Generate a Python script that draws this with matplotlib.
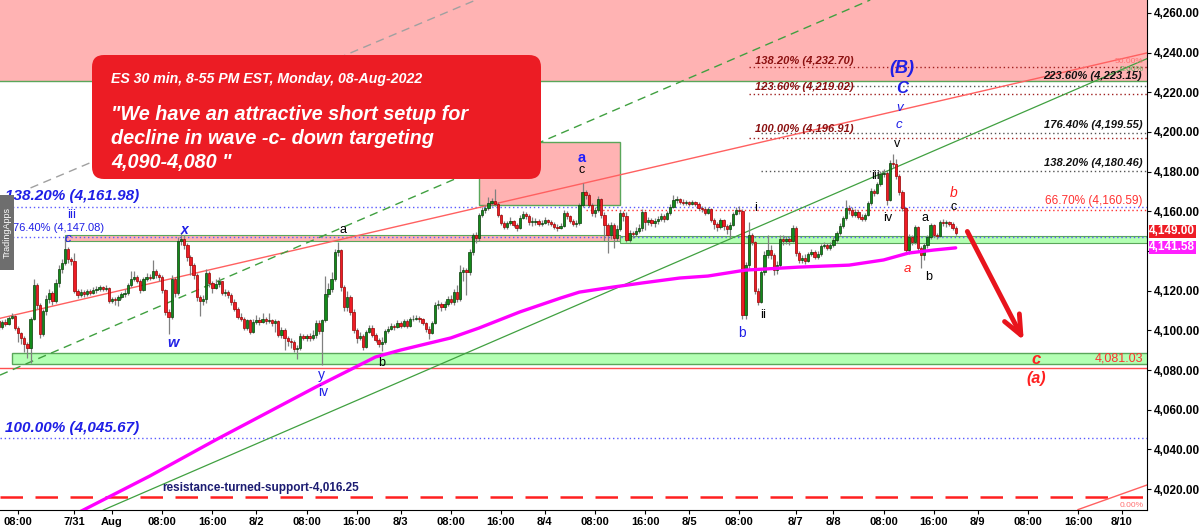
import numpy as np
import pandas as pd
import matplotlib
matplotlib.use("Agg")
import matplotlib.pyplot as plt
import matplotlib.transforms as mtransforms
from matplotlib.patches import Rectangle, FancyBboxPatch

plt.rcParams['font.family'] = ['Liberation Sans', 'DejaVu Sans']

# ---------------- data (ES 30-min bars: close, high, low) ----------------
first_open = 4104.5
s0729 = [(4101.5, 4106, 4100), (4104, 4105, 4100.5), (4103, 4105.5, 4102), (4106.5, 4107.5, 4102.5),
         (4107.5, 4109, 4105.5), (4101, 4108, 4100), (4098.5, 4102, 4094), (4096, 4099, 4093),
         (4093, 4097, 4089), (4091, 4094, 4086), (4106, 4107, 4083.5), (4123, 4126, 4105),
         (4113, 4124, 4111), (4098, 4114, 4096), (4110, 4111, 4097), (4116, 4118, 4108),
         (4119, 4121, 4114), (4115, 4120, 4113), (4124, 4126, 4114), (4131, 4133, 4122),
         (4134, 4136, 4129), (4141, 4146, 4133), (4136, 4142, 4134), (4135, 4137, 4133)]
s0801 = [(4120, 4139, 4119), (4118, 4121, 4116.5), (4119.5, 4121, 4117), (4118.5, 4120.5, 4117),
         (4120, 4121, 4117.5), (4119, 4121, 4118), (4120.5, 4122, 4118.5), (4121, 4122.5, 4119),
         (4122, 4123, 4120), (4121, 4122.5, 4120), (4121.5, 4123, 4120), (4115, 4122, 4114),
         (4116, 4117, 4114), (4115.5, 4117, 4113), (4117, 4118, 4112.5), (4118.5, 4119.5, 4116),
         (4119, 4121, 4117), (4123, 4124, 4118), (4126, 4130, 4122), (4127, 4130, 4125),
         (4125, 4128, 4124), (4120.5, 4126, 4119), (4126, 4127, 4120), (4127, 4129, 4125),
         (4126.5, 4128.5, 4125.5), (4130, 4135.5, 4126), (4128, 4131, 4126.5), (4127, 4129, 4125),
         (4120.5, 4128, 4119), (4109.5, 4121, 4108), (4107, 4111, 4098), (4126, 4128, 4106),
         (4119, 4127, 4117), (4145, 4147, 4118), (4146, 4149, 4143), (4143, 4148, 4141),
         (4137, 4144, 4135), (4133, 4138, 4128), (4128, 4134, 4126), (4117, 4129, 4115),
         (4115, 4118, 4107.5), (4116, 4118, 4113), (4129, 4131, 4114), (4124, 4130, 4122),
         (4121.5, 4125, 4119), (4123.5, 4126, 4121)]
s0802 = [(4125, 4127, 4122), (4119, 4125, 4118), (4119.5, 4121, 4117.5), (4118, 4120.5, 4116.5),
         (4114.5, 4119, 4113), (4111, 4116, 4110), (4107, 4112, 4106), (4106, 4109, 4104.5),
         (4101, 4107, 4100), (4105, 4106, 4100), (4099, 4106, 4098), (4104, 4106, 4098.5),
         (4105, 4108, 4103), (4104, 4107, 4102.5), (4105.5, 4109, 4103.5), (4104.5, 4107, 4103),
         (4105, 4109, 4103.5), (4103.5, 4106, 4102), (4104.5, 4106, 4099), (4097.5, 4105, 4096.5),
         (4100, 4101.5, 4096), (4096, 4101, 4090), (4094.5, 4097, 4092), (4094, 4096, 4091),
         (4090.5, 4095, 4089), (4091, 4092.5, 4085.5), (4097, 4098.5, 4090), (4096, 4098, 4095),
         (4097, 4098, 4094.5), (4096, 4098.5, 4094.5), (4097.5, 4100, 4095), (4103.5, 4105, 4096),
         (4099.5, 4105, 4098), (4105, 4106, 4082.5), (4118.5, 4127.5, 4104), (4121, 4124, 4117),
         (4126, 4129.5, 4119.5), (4139.5, 4141, 4125), (4140.5, 4144.5, 4137.5), (4122, 4141, 4120),
         (4112, 4123, 4110), (4117, 4120, 4110), (4109.5, 4118, 4108), (4100, 4111, 4098.5),
         (4096, 4101, 4093.5), (4097, 4099, 4095)]
s0803 = [(4091.5, 4098, 4090), (4099, 4100, 4091), (4101, 4102.5, 4098.5), (4097.5, 4102.5, 4096.5),
         (4095, 4098.5, 4094), (4093, 4096, 4091.5), (4094, 4096.5, 4089.5), (4099.5, 4100.5, 4093),
         (4100.5, 4102, 4098.5), (4102, 4103.5, 4100), (4101.5, 4103, 4100), (4103.5, 4105, 4101),
         (4102, 4104.5, 4101), (4104.5, 4106, 4101.5), (4102, 4105.5, 4101), (4105.5, 4107, 4101.5),
         (4106, 4108, 4104.5), (4106.5, 4108, 4105), (4105.5, 4107.5, 4104), (4103.5, 4106.5, 4102.5),
         (4100.5, 4104, 4099), (4098.5, 4102, 4095.5), (4103.5, 4104.5, 4098), (4113, 4114.5, 4103),
         (4113.5, 4115.5, 4111), (4112, 4114.5, 4110), (4113.5, 4115, 4110.5), (4116, 4117.5, 4112.5),
         (4114.5, 4118, 4113.5), (4119.5, 4121, 4113), (4116, 4123, 4114.5), (4129.5, 4133, 4115),
         (4130.5, 4132, 4125), (4129.5, 4131.5, 4118), (4139.5, 4141, 4128), (4148, 4149, 4138),
         (4146.5, 4149.5, 4144), (4158, 4159, 4145), (4160.5, 4162, 4157), (4161.5, 4163, 4159),
         (4164, 4167, 4160.5), (4165, 4166.5, 4162.5), (4163.5, 4171.5, 4162.5), (4158, 4164.5, 4157),
         (4154, 4158.5, 4153), (4152, 4155, 4151)]
s0804 = [(4154, 4155, 4151), (4155, 4157, 4153), (4153, 4155.5, 4152), (4151.5, 4154, 4150),
         (4156.5, 4158, 4151), (4158.5, 4160, 4156), (4157.5, 4159.5, 4156), (4154.5, 4158.5, 4153),
         (4154.5, 4157, 4152.5), (4155, 4156.5, 4153), (4153.5, 4156, 4152.5), (4154, 4155.5, 4152.5),
         (4155.5, 4157, 4153.5), (4154.5, 4156, 4153), (4153.5, 4155.5, 4152.5), (4152, 4154.5, 4151),
         (4151.5, 4153.5, 4150), (4152.5, 4154, 4151), (4159, 4160.5, 4152), (4157.5, 4160, 4156),
         (4155, 4158, 4154), (4153.5, 4156, 4152.5), (4154, 4155.5, 4152), (4163, 4164, 4153),
         (4169.5, 4174.5, 4162), (4168, 4171, 4166), (4163, 4169, 4162), (4159, 4164, 4157.5),
         (4160.5, 4162, 4157), (4166, 4167.5, 4159.5), (4158, 4166.5, 4156.5), (4153, 4159.5, 4145),
         (4148, 4154, 4139), (4153, 4154.5, 4146), (4146.5, 4154, 4141.5), (4151, 4153, 4145),
         (4159, 4160.5, 4150), (4157.5, 4160, 4155), (4145.5, 4159.5, 4144.5), (4149, 4150.5, 4144.5),
         (4148.5, 4150, 4146.5), (4150, 4152, 4147.5), (4151.5, 4153.5, 4149), (4159.5, 4161, 4150),
         (4154.5, 4160, 4150.5), (4155.5, 4157, 4153)]
s0805 = [(4154, 4156.5, 4152.5), (4155, 4156.5, 4152), (4156, 4157.5, 4153.5), (4157.5, 4159, 4155),
         (4156, 4158.5, 4154.5), (4159, 4160, 4155.5), (4162, 4163.5, 4158), (4165.5, 4168, 4161.5),
         (4166, 4167.5, 4164), (4164.5, 4166.5, 4163.5), (4164, 4166, 4163), (4164.5, 4165.5, 4163),
         (4163.5, 4165, 4162.5), (4164.5, 4165.5, 4163), (4163.5, 4165, 4162.5), (4161.5, 4164.5, 4160.5),
         (4161, 4162.5, 4159.5), (4159, 4162, 4158), (4161, 4162, 4158.5), (4155.5, 4161.5, 4154.5),
         (4153.5, 4156.5, 4151), (4152, 4154.5, 4150), (4155.5, 4156.5, 4151), (4152.5, 4156, 4150.5),
         (4151, 4153.5, 4148.5), (4153, 4154.5, 4146.5), (4158.5, 4159.5, 4152.5), (4160.5, 4162, 4158),
         (4160, 4162.5, 4158.5), (4108, 4161, 4105.5), (4133, 4134.5, 4106), (4148, 4154.5, 4131),
         (4144.5, 4149, 4143), (4120, 4145, 4118.5), (4114.5, 4121.5, 4113), (4129.5, 4130.5, 4114),
         (4138, 4140, 4128), (4140.5, 4148, 4136.5), (4138, 4143, 4136), (4130.5, 4139, 4128),
         (4133, 4135, 4128.5), (4146, 4148, 4132), (4145, 4148, 4143), (4146, 4147.5, 4143.5),
         (4145, 4147, 4143), (4151.5, 4153, 4144.5)]
s0808 = [(4139, 4152.5, 4137.5), (4135.5, 4140, 4134), (4136.5, 4138, 4134), (4135, 4138.5, 4133.5),
         (4138.5, 4139.5, 4134.5), (4139.5, 4141, 4137.5), (4137, 4140.5, 4136), (4138.5, 4140, 4136),
         (4142.5, 4143.5, 4137.5), (4143, 4144.5, 4141.5), (4141.5, 4144, 4140.5), (4143, 4144.5, 4140.5),
         (4145.5, 4147, 4142), (4149, 4150, 4144.5), (4152.5, 4154, 4148), (4156.5, 4157.5, 4151.5),
         (4161.5, 4165.5, 4155.5), (4160.5, 4163, 4158.5), (4158, 4162, 4157), (4159.5, 4161, 4157),
         (4157, 4160.5, 4156), (4156, 4158.5, 4155), (4158, 4159, 4155), (4164, 4165, 4157.5),
         (4170.5, 4172, 4163), (4169, 4171.5, 4167.5), (4174, 4175, 4168.5), (4179, 4180.5, 4173),
         (4179.5, 4181.5, 4177.5), (4165.5, 4180.5, 4163), (4184.5, 4186, 4165), (4184, 4189, 4182),
         (4178, 4186.5, 4176.5), (4169.5, 4179, 4168), (4161.5, 4171, 4160), (4140.5, 4162, 4138.5),
         (4147, 4148.5, 4138.5), (4144.5, 4148, 4143), (4152, 4153, 4143.5), (4141.5, 4152.5, 4140),
         (4138, 4142.5, 4131.5), (4143, 4144, 4135.5), (4147, 4148, 4141.5), (4153, 4154, 4146),
         (4148, 4153.5, 4147), (4147.5, 4149, 4146)]
s0809 = [(4154.5, 4155.5, 4147), (4154, 4156, 4152.5), (4154.5, 4155.5, 4152),
         (4153.5, 4155, 4152.5), (4151.5, 4154.5, 4150.5), (4149, 4152.5, 4148)]

# 200-bar moving average (bar time, value)
ma_times = ['2022-07-31 18:30', '2022-08-01 06:00', '2022-08-01 16:30', '2022-08-02 09:30',
            '2022-08-02 20:00', '2022-08-03 00:00', '2022-08-03 08:00', '2022-08-03 12:30',
            '2022-08-03 20:00', '2022-08-04 02:30', '2022-08-04 05:30', '2022-08-04 11:00',
            '2022-08-04 15:30', '2022-08-04 22:30', '2022-08-05 03:00', '2022-08-05 09:00',
            '2022-08-07 18:30', '2022-08-08 02:30', '2022-08-08 08:00', '2022-08-08 12:00',
            '2022-08-08 16:00', '2022-08-08 20:30']
ma_vals = [4008.0, 4026.6, 4044.8, 4071.5, 4086.6, 4090.1, 4096.2, 4101.2, 4109.3, 4116.3, 4119.3,
           4121.9, 4123.9, 4126.4, 4127.4, 4130.4, 4131.9, 4132.9, 4135.5, 4139.0, 4140.5, 4141.6]

# x-axis tick labels
tick_times = ['2022-07-29 08:00', '2022-07-31 18:00', '2022-08-01 00:00', '2022-08-01 08:00',
              '2022-08-01 16:00', '2022-08-02 00:00', '2022-08-02 08:00', '2022-08-02 16:00',
              '2022-08-03 00:00', '2022-08-03 08:00', '2022-08-03 16:00', '2022-08-04 00:00',
              '2022-08-04 08:00', '2022-08-04 16:00', '2022-08-05 00:00', '2022-08-05 08:00',
              '2022-08-07 18:00', '2022-08-08 00:00', '2022-08-08 08:00', '2022-08-08 16:00',
              '2022-08-09 00:00', '2022-08-09 08:00', '2022-08-09 16:00', '2022-08-10 00:00']
tick_labels = ['08:00', '7/31', 'Aug', '08:00', '16:00', '8/2', '08:00', '16:00', '8/3', '08:00',
               '16:00', '8/4', '08:00', '16:00', '8/5', '08:00', '8/7', '8/8', '08:00', '16:00',
               '8/9', '08:00', '16:00', '8/10']
price_ticks = [4020, 4040, 4060, 4080, 4100, 4120, 4140, 4160, 4180, 4200, 4220, 4240, 4260]

# levels
fib_left = [(4161.98, '138.20% (4,161.98)'), (4147.08, '76.40% (4,147.08)'), (4045.67, '100.00% (4,045.67)')]
fib_red = [(4232.70, '138.20% (4,232.70)'), (4219.02, '123.60% (4,219.02)'), (4196.91, '100.00% (4,196.91)')]
fib_black = [(4223.15, '223.60% (4,223.15)'), (4199.55, '176.40% (4,199.55)'), (4180.46, '138.20% (4,180.46)')]
retr_level = 4160.59
target_level = 4081.03
support_level = 4016.25
last_price = 4149.00
ma_last = 4141.58

# ---------------- calendar (trading session bars) ----------------
rng = pd.date_range('2022-07-29 05:00', '2022-08-10 16:30', freq='30min')
keep = []
for t in rng:
    wd, h = t.weekday(), t.hour
    if wd == 5 or h == 17:
        continue
    if wd == 4 and h >= 17:
        continue
    if wd == 6 and h < 18:
        continue
    keep.append(t)
cal = pd.DatetimeIndex(keep)
pos = {t: i for i, t in enumerate(cal)}


def X(s):
    return pos[pd.Timestamp(s)]


bars = s0729 + s0801 + s0802 + s0803 + s0804 + s0805 + s0808 + s0809
closes = np.array([b[0] for b in bars])
highs = np.array([b[1] for b in bars])
lows = np.array([b[2] for b in bars])
opens = np.concatenate([[first_open], closes[:-1]])
xs = np.arange(len(bars))

# ---------------- figure ----------------
DPI = 100
fig = plt.figure(figsize=(12, 5.32), dpi=DPI)
ax = fig.add_axes([0, 22 / 532, 1147 / 1200, 510 / 532])
XMIN, XMAX = 0.26, 366.0
ax.set_xlim(XMIN, XMAX)
ax.set_ylim(4009.5, 4266.5)

PX = mtransforms.Affine2D().scale(1.0 / DPI) + fig.dpi_scale_trans

PINK = '#ffb3b3'
GREENZ = '#b3ffb3'
GEDGE = '#5aa65a'
BLUE = '#1f1fe6'
RED = '#ee1c25'
DRED = '#8b1010'

# top resistance zone
ax.add_patch(Rectangle((XMIN - 5, 4225.7), XMAX - XMIN + 10, 60, facecolor=PINK, edgecolor='none', zorder=0))
ax.axhline(4225.7, color=GEDGE, lw=1, zorder=1)
# a-c box
ax.add_patch(Rectangle((X('2022-08-03 12:30'), 4163.2), X('2022-08-04 12:00') - X('2022-08-03 12:30'),
                       4195.1 - 4163.2, facecolor=PINK, edgecolor=GEDGE, lw=1, zorder=0))
# thin bands around 4147
ax.add_patch(Rectangle((X('2022-07-29 15:30'), 4145.0), X('2022-08-04 12:00') - X('2022-07-29 15:30'),
                       3.1, facecolor=PINK, edgecolor=GEDGE, lw=0.8, zorder=0))
ax.add_patch(Rectangle((X('2022-08-04 12:00'), 4144.0), XMAX - X('2022-08-04 12:00') + 5,
                       3.6, facecolor=GREENZ, edgecolor=GEDGE, lw=0.8, zorder=0))
# target zone
ax.add_patch(Rectangle((X('2022-07-29 07:00'), 4082.9), XMAX - X('2022-07-29 07:00') + 5,
                       5.5, facecolor=GREENZ, edgecolor=GEDGE, lw=1, zorder=0))
ax.axhline(target_level, color='#ff5050', lw=1, zorder=1)

# fib lines
for lvl, _ in fib_left:
    ax.axhline(lvl, color='#5a5aff', lw=1, ls=(0, (1, 2)), zorder=1)
ax.plot([X('2022-08-04 06:30'), XMAX + 5], [retr_level] * 2, color='#ff3030', lw=1, ls=(0, (1, 2)), zorder=1)
for lvl, _ in fib_red:
    ax.plot([X('2022-08-05 09:30'), XMAX + 5], [lvl] * 2, color='#a02020', lw=1, ls=(0, (1, 2)), zorder=1)
for lvl, _ in fib_black:
    ax.plot([X('2022-08-05 11:30'), XMAX + 5], [lvl] * 2, color='#555555', lw=1, ls=(0, (1, 2)), zorder=1)
ax.axhline(support_level, color='#ff2020', lw=1.8, ls=(0, (9, 5)), zorder=1)

# trend lines
ax.axline((X('2022-07-29 05:00'), 4106.0), (X('2022-08-08 18:00'), 4215.7), color='#ff6060', lw=1, zorder=1)
ax.axline((X('2022-08-01 00:00'), 4011.4), (X('2022-08-08 00:00'), 4168.6), color='#40a040', lw=0.9, zorder=1)
ax.axline((X('2022-07-29 05:00'), 4077.3), (X('2022-08-08 00:00'), 4258.5), color='#40a040', lw=1,
          ls=(0, (6, 4)), zorder=1)
ax.plot([X('2022-07-29 10:00'), X('2022-08-05 00:00')], [4171.8, 4171.8 + 0.6865 * 204],
        color='#a0a0a0', lw=1, ls=(0, (6, 4)), zorder=1)
ax.plot([X('2022-08-09 16:00'), X('2022-08-10 04:00')], [4009.7, 4022.1], color='#ff6060', lw=1, zorder=1)

# candles
up = closes >= opens
ax.vlines(xs, lows, highs, color='#808080', lw=0.9, zorder=3)
body_lo = np.minimum(opens, closes)
body_h = np.maximum(np.abs(closes - opens), 0.4)
ax.bar(xs[up], body_h[up], bottom=body_lo[up], width=0.74, color='#138a1a', edgecolor='#0b3d0b', lw=0.5, zorder=3.5)
ax.bar(xs[~up], body_h[~up], bottom=body_lo[~up], width=0.74, color=RED, edgecolor='#9a0000', lw=0.5, zorder=3.5)

# moving average
ax.plot([X(t) for t in ma_times], ma_vals, color='#ff00ff', lw=2.4, zorder=4, solid_capstyle='round')

# arrow
ax.annotate('', xy=(327.1, 4093.7), xytext=(308.3, 4151.1),
            arrowprops=dict(arrowstyle='->,head_length=1.4,head_width=0.6', color='#e8141c', lw=3.5),
            zorder=6)

# ---------------- labels ----------------
def T(x, y, s, color='black', size=8.5, weight='normal', style='normal', ha='center', va='center', **kw):
    ax.text(x, y, s, color=color, fontsize=size, fontweight=weight, fontstyle=style, ha=ha, va=va,
            zorder=5, **kw)

# left fib labels
T(1.85, 4167.7, fib_left[0][1], BLUE, 11, 'bold', 'italic', ha='left')
T(4.3, 4151.8, fib_left[1][1], BLUE, 8, ha='left')
T(1.85, 4050.7, fib_left[2][1], BLUE, 11, 'bold', 'italic', ha='left')
T(51.9, 4020.6, 'resistance-turned-support-4,016.25', '#1c1c72', 8.5, 'bold', ha='left')
# right fib labels
for (lvl, s), yy in zip(fib_red, [4235.7, 4222.8, 4201.3]):
    T(241.0, yy, s, DRED, 8, 'bold', 'italic', ha='left')
for (lvl, s), yy in zip(fib_black, [4228.3, 4203.5, 4184.3]):
    T(364.5, yy, s, '#111111', 8, 'bold', 'italic', ha='right')
T(364.7, 4165.2, '66.70% (4,160.59)', '#ff3030', 8.5, ha='right')
T(364.7, 4085.6, '4,081.03', '#ff3030', 9, ha='right')
T(364.9, 4235.6, '50.00%', '#ff7070', 6, ha='right')
T(364.9, 4231.4, '0.00%', '#60b060', 6, ha='right')
T(364.9, 4012.0, '0.00%', '#ff7070', 6, ha='right')

# wave labels
T(23.1, 4158.1, 'iii', BLUE, 9.5)
T(22.0, 4146.0, 'c', BLUE, 9.5, style='italic')
T(59.0, 4150.5, 'x', BLUE, 10, 'bold', 'italic')
T(109.7, 4150.6, 'a', 'black', 9)
T(55.5, 4093.5, 'w', BLUE, 10.5, 'bold', 'italic')
T(102.8, 4077.5, 'y', BLUE, 10)
T(103.4, 4069.1, 'iv', BLUE, 10)
T(121.8, 4083.4, 'b', 'black', 9)
T(185.7, 4187.0, 'a', '#1f1fff', 10.5, 'bold')
T(185.7, 4180.8, 'c', 'black', 9)
T(241.2, 4161.5, 'i', 'black', 9)
T(237.0, 4098.5, 'b', BLUE, 10)
T(243.7, 4107.7, 'ii', 'black', 9.5)
T(287.8, 4232.1, '(B)', BLUE, 13, 'bold', 'italic')
T(287.8, 4222.0, 'C', BLUE, 12, 'bold', 'italic')
T(287.0, 4211.9, 'v', BLUE, 9.5, style='italic')
T(286.8, 4203.5, 'c', BLUE, 9.5, style='italic')
T(286.2, 4193.8, 'v', 'black', 9)
T(279.3, 4177.8, 'iii', 'black', 9)
T(283.2, 4156.5, 'iv', 'black', 9)
T(295.2, 4156.5, 'a', 'black', 9)
T(304.5, 4169.4, 'b', '#ff2020', 10, style='italic')
T(304.2, 4162.3, 'c', 'black', 9)
T(289.6, 4130.8, 'a', '#ff2020', 9.5, style='italic')
T(296.5, 4127.0, 'b', 'black', 9)
T(330.5, 4085.4, 'c', '#ff2020', 12, 'bold', 'italic')
T(330.8, 4075.9, '(a)', '#ff2020', 11.5, 'bold', 'italic')

# ---------------- axes styling ----------------
ax.yaxis.tick_right()
ax.set_yticks(price_ticks)
# the 4,140 label sits under the live price tags, as on the platform
ax.set_yticklabels(['' if v == 4140 else f'{v:,.2f}' for v in price_ticks], fontsize=8.5, fontweight='bold')
ax.set_xticks([X(t) for t in tick_times])
ax.set_xticklabels(tick_labels, fontsize=8, fontweight='bold')
ax.tick_params(axis='y', length=3, pad=2, width=0.8)
ax.tick_params(axis='x', length=3, pad=2, width=0.8)
for side in ['left', 'top']:
    ax.spines[side].set_visible(False)
ax.spines['right'].set_linewidth(0.8)
ax.spines['bottom'].set_linewidth(0.8)

# last price tags
blend = mtransforms.blended_transform_factory(ax.transAxes, ax.transData)
ax.text(1.002, last_price + 0.9, f'{last_price:,.2f}', transform=blend, ha='left', va='center', color='white',
        fontsize=8.5, fontweight='bold', zorder=7, clip_on=False,
        bbox=dict(boxstyle='square,pad=0.06', fc=RED, ec='none'))
ax.text(1.002, ma_last + 0.3, f'{ma_last:,.2f}', transform=blend, ha='left', va='center', color='white',
        fontsize=8.5, fontweight='bold', zorder=7, clip_on=False,
        bbox=dict(boxstyle='square,pad=0.06', fc='#ff20ff', ec='none'))

# headline box
fig.patches.append(FancyBboxPatch((92, 353), 449, 124, boxstyle='round,pad=0,rounding_size=12',
                                  transform=PX, facecolor='#ec1c24', edgecolor='none', zorder=10))
fig.text(111, 453, 'ES 30 min, 8-55 PM EST, Monday, 08-Aug-2022', transform=PX, color='white',
         fontsize=10.2, fontweight='bold', fontstyle='italic', ha='left', va='center', zorder=11)
for yy, line in zip([417, 393.5, 369.7], ['"We have an attractive short setup for',
                                          'decline in wave -c- down targeting',
                                          '4,090-4,080 "']):
    fig.text(111, yy, line, transform=PX, color='white', fontsize=14.3, fontweight='bold',
             fontstyle='italic', ha='left', va='center', zorder=11)

# TradingApps badge
fig.patches.append(Rectangle((0, 262), 14, 75, transform=PX, facecolor='#6e6e6e', edgecolor='none', zorder=10))
fig.text(7, 299.5, 'TradingApps', transform=PX, color='white', fontsize=6.5, rotation=90,
         ha='center', va='center', zorder=11)

fig.savefig('out.png', dpi=DPI)
